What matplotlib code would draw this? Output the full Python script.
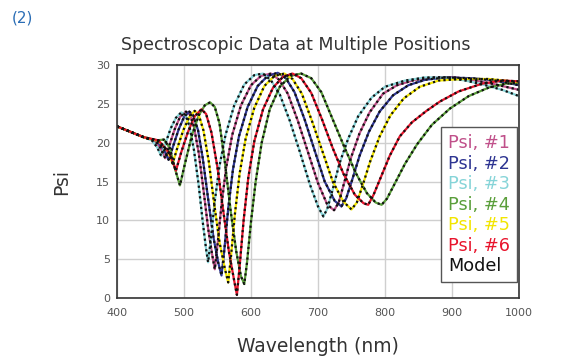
import matplotlib
matplotlib.use("Agg")
import matplotlib.pyplot as plt

psi3_wl = [400, 420, 440, 452, 460, 466, 472, 480, 488, 496, 502, 508, 515, 522, 528, 533, 536, 540, 546, 553,
           562, 575, 590, 605, 618, 630, 643, 658, 673, 688, 700, 708, 714, 722, 732, 745, 760, 780, 800, 830,
           860, 890, 920, 950, 975, 1000]
psi3 = [22.1, 21.4, 20.7, 20.3, 19.4, 18.3, 19.8, 21.8, 23.2, 23.9, 23.6, 22.2, 19.0, 14.5, 9.8, 6.3, 4.6, 7.5, 12.5, 17.0,
        21.0, 24.8, 27.5, 28.7, 28.9, 28.0, 26.2, 22.8, 18.8, 14.6, 11.8, 10.5, 11.5, 14.0, 17.3, 20.5, 23.4, 25.8, 27.2, 28.0,
        28.4, 28.4, 28.0, 27.4, 26.8, 26.0]

psi1_wl = [400, 420, 440, 456, 465, 472, 478, 486, 494, 503, 509, 515, 522, 529, 536, 542, 546, 550, 556, 563,
           572, 585, 600, 615, 630, 642, 655, 670, 685, 700, 714, 724, 731, 739, 749, 762, 777, 797, 818, 845,
           875, 905, 935, 965, 1000]
psi1 = [22.1, 21.4, 20.7, 20.3, 19.3, 18.0, 19.6, 21.7, 23.3, 24.0, 23.6, 22.0, 18.7, 14.0, 9.0, 5.6, 3.7, 6.8, 12.0, 16.8,
        21.0, 24.8, 27.4, 28.6, 28.9, 28.1, 26.3, 22.8, 18.8, 14.8, 12.0, 11.3, 12.3, 14.8, 18.0, 21.2, 23.9, 26.3, 27.4, 28.1,
        28.4, 28.4, 28.0, 27.5, 26.8]

psi2_wl = [400, 420, 440, 460, 470, 477, 484, 492, 500, 508, 514, 521, 528, 536, 544, 551, 556, 560, 566, 573,
           582, 595, 610, 625, 640, 652, 665, 680, 695, 710, 725, 735, 742, 751, 762, 776, 792, 812, 835, 860,
           890, 930, 965, 1000]
psi2 = [22.1, 21.4, 20.7, 20.2, 19.1, 17.8, 19.6, 21.7, 23.3, 24.0, 23.5, 21.6, 18.0, 12.8, 7.8, 4.6, 2.9, 6.0, 11.5, 16.5,
        20.8, 24.6, 27.3, 28.6, 29.0, 28.3, 26.5, 23.0, 19.0, 15.0, 12.5, 11.8, 12.8, 15.2, 18.3, 21.4, 24.0, 26.1, 27.4, 28.1,
        28.4, 28.3, 28.0, 27.4]

psi5_wl = [400, 420, 440, 462, 476, 483, 490, 499, 508, 516, 522, 529, 537, 545, 553, 561, 566, 570, 576, 583,
           592, 605, 620, 635, 650, 662, 676, 691, 707, 722, 738, 750, 758, 767, 778, 792, 808, 828, 852, 880,
           915, 955, 1000]
psi5 = [22.1, 21.4, 20.7, 20.2, 18.9, 17.3, 19.3, 21.6, 23.3, 24.1, 23.6, 21.6, 17.6, 12.2, 7.2, 3.8, 2.0, 5.2, 10.8, 16.0,
        20.5, 24.5, 27.3, 28.6, 28.9, 28.2, 26.3, 22.8, 18.8, 15.0, 12.4, 11.4, 12.3, 14.6, 17.6, 20.8, 23.5, 25.7, 27.2, 28.0,
        28.2, 28.2, 27.8]

psi6_wl = [400, 420, 440, 462, 478, 488, 496, 506, 516, 526, 533, 541, 550, 559, 567, 575, 579, 583, 589, 596,
           605, 618, 633, 648, 662, 675, 690, 706, 722, 738, 755, 768, 775, 783, 795, 807, 822, 840, 862, 882,
           910, 945, 975, 1000]
psi6 = [22.1, 21.4, 20.7, 20.3, 18.7, 16.4, 18.8, 21.4, 23.4, 24.3, 23.7, 21.3, 16.8, 11.0, 6.0, 2.2, 0.4, 4.0, 10.0, 15.5,
        20.2, 24.3, 27.1, 28.5, 28.9, 28.3, 26.4, 23.0, 19.3, 16.0, 13.3, 12.2, 12.0, 13.3, 15.8, 18.3, 20.8, 22.6, 24.1, 25.3,
        26.6, 27.6, 28.0, 27.9]

psi4_wl = [400, 420, 440, 460, 470, 479, 487, 494, 502, 512, 522, 531, 539, 546, 553, 561, 570, 578, 585, 590,
           594, 600, 607, 616, 628, 643, 659, 675, 690, 705, 722, 740, 757, 773, 786, 795, 803, 815, 830, 848,
           870, 897, 925, 955, 980, 1000]
psi4 = [22.1, 21.4, 20.7, 20.3, 20.4, 19.3, 16.5, 14.5, 17.5, 21.0, 23.5, 24.8, 25.2, 24.6, 22.5, 17.5, 11.0, 6.0, 2.8, 1.8,
        4.5, 9.8, 15.0, 20.0, 24.3, 27.2, 28.6, 28.9, 28.3, 26.5, 23.0, 19.3, 16.0, 13.5, 12.3, 12.0, 12.8, 14.8, 17.3, 19.8,
        22.3, 24.4, 26.0, 27.1, 27.6, 27.7]

labels = ["Psi, #1", "Psi, #2", "Psi, #3", "Psi, #4", "Psi, #5", "Psi, #6"]
colors = ["#c0508a", "#2e3592", "#86d4d8", "#5a9e3a", "#f2e500", "#e8142c"]
series = [(psi1_wl, psi1), (psi2_wl, psi2), (psi3_wl, psi3), (psi4_wl, psi4), (psi5_wl, psi5), (psi6_wl, psi6)]

fig = plt.figure(figsize=(5.64, 3.58), dpi=100)
ax = fig.add_axes([0.2074, 0.1676, 0.7128, 0.6508])

handles = []
for (wl, p), lab, c in zip(series, labels, colors):
    h, = ax.plot(wl, p, color=c, lw=1.6, label=lab)
    handles.append(h)
# model fits drawn as black dotted lines on top of the data
for wl, p in series:
    m, = ax.plot(wl, p, color="#111111", lw=1.6, ls=(0, (1, 1.4)))
m.set_label("Model")
handles.append(m)

ax.set_xlim(400, 1000)
ax.set_ylim(0, 30)
ax.set_xticks(range(400, 1001, 100))
ax.set_yticks(range(0, 31, 5))
ax.grid(True, color="#cfcfcf", lw=1.0)
ax.set_axisbelow(True)
ax.tick_params(length=0, labelsize=8, labelcolor="#555555")
ax.tick_params(axis="x", pad=7)
ax.tick_params(axis="y", pad=5)
for s in ax.spines.values():
    s.set_color("#333333")
    s.set_linewidth(1.2)

ax.set_xlabel("Wavelength (nm)", fontsize=13.5, color="#333333", labelpad=14)
ax.set_ylabel("Psi", fontsize=13.5, color="#333333", labelpad=18)

leg = ax.legend(handles=handles, loc="lower right", bbox_to_anchor=(0.995, 0.068),
                handlelength=0, handletextpad=0, fontsize=12.7, labelspacing=0.14,
                fancybox=False, edgecolor="#555555", framealpha=1, borderpad=0.4,
                borderaxespad=0)
for t, c in zip(leg.get_texts(), colors + ["#111111"]):
    t.set_color(c)

fig.text(0.525, 0.874, "Spectroscopic Data at Multiple Positions", ha="center", va="center",
         fontsize=12.5, color="#333333")
fig.text(0.02, 0.95, "(2)", ha="left", va="center", fontsize=11, color="#2a6db5")

fig.savefig("out.png", dpi=100)
